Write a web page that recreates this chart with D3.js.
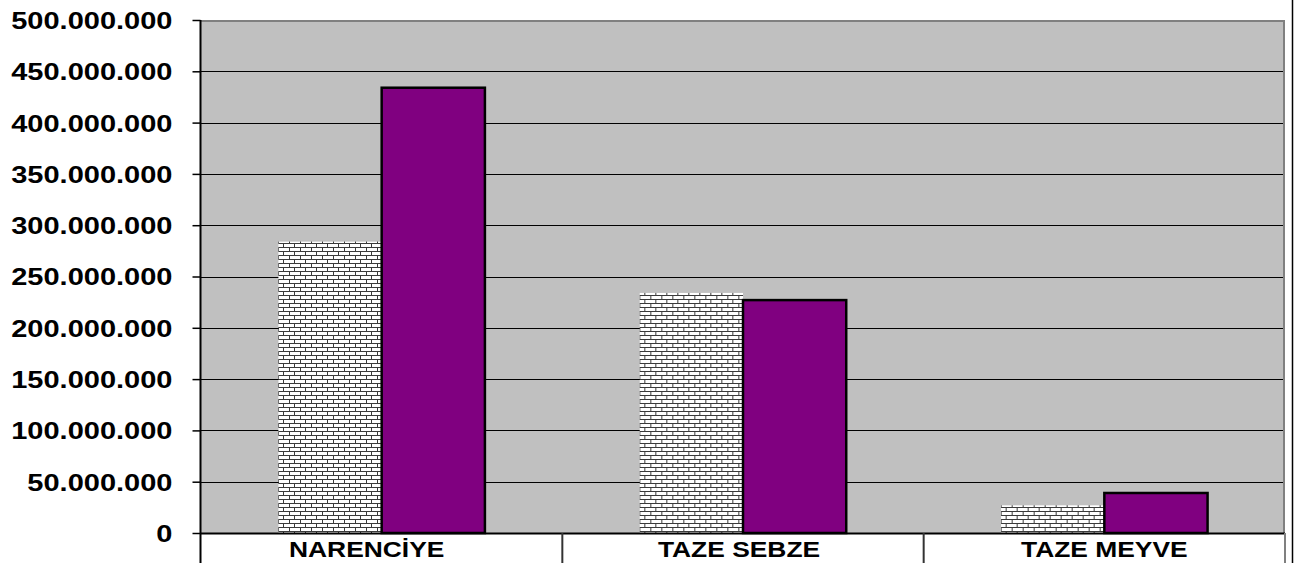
<!DOCTYPE html>
<html>
<head>
<meta charset="utf-8">
<script src="https://cdn.jsdelivr.net/npm/d3@7"></script>
<style>
  body { margin: 0; background: #fff; }
  svg text { font-family: "Liberation Sans", Arial, sans-serif; font-weight: bold; fill: #000; }
</style>
</head>
<body>
<svg id="chart" width="1295" height="563"></svg>
<script>
// chart values
var categories = ["NARENCİYE", "TAZE SEBZE", "TAZE MEYVE"];
var seriesNames = ["Seri 1", "Seri 2"];
var series1 = [284000000, 234000000, 27000000];
var series2 = [434000000, 227000000, 39000000];
var yTicks = [0, 50000000, 100000000, 150000000, 200000000, 250000000, 300000000, 350000000, 400000000, 450000000, 500000000];

var svg = d3.select("#chart");
var plotLeft = 201, plotRight = 1285, plotTop = 20, plotBottom = 533;

// brick pattern
var defs = svg.append("defs");
var pat = defs.append("pattern")
    .attr("id", "bricks")
    .attr("patternUnits", "userSpaceOnUse")
    .attr("width", 11).attr("height", 8);
pat.append("rect").attr("width", 11).attr("height", 8).attr("fill", "#fff");
pat.append("rect").attr("x", 0).attr("y", 3).attr("width", 11).attr("height", 1).attr("fill", "#3a3a3a");
pat.append("rect").attr("x", 0).attr("y", 7).attr("width", 11).attr("height", 1).attr("fill", "#3a3a3a");
pat.append("rect").attr("x", 0).attr("y", 0).attr("width", 1).attr("height", 3).attr("fill", "#3a3a3a");
pat.append("rect").attr("x", 5).attr("y", 4).attr("width", 1).attr("height", 3).attr("fill", "#3a3a3a");

var yScale = d3.scaleLinear().domain([0, 500000000]).range([plotBottom, plotTop]);
var x0 = d3.scaleBand().domain(categories).range([plotLeft, plotRight]).paddingInner(0).paddingOuter(0);
var x1 = d3.scaleBand().domain(seriesNames).range([0, x0.bandwidth()]).paddingInner(0).paddingOuter(0.75);

// plot area
svg.append("rect")
    .attr("x", plotLeft).attr("y", plotTop)
    .attr("width", plotRight - plotLeft).attr("height", plotBottom - plotTop)
    .attr("fill", "#c0c0c0");

// gridlines
svg.append("g").selectAll("line")
    .data(yTicks.filter(function (d) { return d > 0 && d < 500000000; }))
    .enter().append("line")
    .attr("x1", plotLeft).attr("x2", plotRight)
    .attr("y1", function (d) { return Math.round(yScale(d)) + 0.5; })
    .attr("y2", function (d) { return Math.round(yScale(d)) + 0.5; })
    .attr("stroke", "#000").attr("stroke-width", 1);

// plot area border top/right
svg.append("path")
    .attr("d", "M" + plotLeft + "," + (plotTop + 1) + "H" + (plotRight - 1) + "V" + plotBottom)
    .attr("fill", "none").attr("stroke", "#808080").attr("stroke-width", 2);

// bars
var data = categories.map(function (c, i) {
    return { cat: c, values: [{ s: seriesNames[0], v: series1[i] }, { s: seriesNames[1], v: series2[i] }] };
});
var groups = svg.append("g").selectAll("g")
    .data(data).enter().append("g")
    .attr("transform", function (d) { return "translate(" + x0(d.cat) + ",0)"; });

groups.append("rect")
    .attr("x", function (d) { return x1(d.values[0].s); })
    .attr("y", function (d) { return yScale(d.values[0].v); })
    .attr("width", x1.bandwidth())
    .attr("height", function (d) { return plotBottom - yScale(d.values[0].v); })
    .attr("fill", "url(#bricks)");

groups.append("rect")
    .attr("x", function (d) { return x1(d.values[1].s); })
    .attr("y", function (d) { return yScale(d.values[1].v); })
    .attr("width", x1.bandwidth())
    .attr("height", function (d) { return plotBottom - yScale(d.values[1].v); })
    .attr("fill", "#800080")
    .attr("stroke", "#000").attr("stroke-width", 2.5);

// y axis
var yAxis = d3.axisLeft(yScale).tickValues(yTicks).tickSize(8).tickPadding(20)
    .tickFormat(function (d) { return d3.format(",")(d).replace(/,/g, "."); });
var gy = svg.append("g")
    .attr("transform", "translate(" + (plotLeft - 0.5) + ",0)")
    .call(yAxis);
gy.select(".domain").attr("stroke", "#000").attr("stroke-width", 2)
    .attr("d", "M0," + plotTop + "V563");
gy.selectAll(".tick line").attr("stroke", "#000").attr("stroke-width", 1.5);
gy.selectAll(".tick text")
    .attr("x", 0).attr("dy", "0.36em")
    .style("font-size", "23.5px")
    .attr("transform", "translate(-28,0) scale(1.235,1)")
    .attr("text-anchor", "end");

// x axis line
svg.append("line")
    .attr("x1", plotLeft).attr("x2", plotRight)
    .attr("y1", plotBottom + 0.5).attr("y2", plotBottom + 0.5)
    .attr("stroke", "#000").attr("stroke-width", 2);

// category separators below axis
var seps = x0.domain().map(function (c) { return x0(c); }).concat([plotRight]);
svg.append("g").selectAll("line")
    .data(seps.slice(1)).enter().append("line")
    .attr("x1", function (d) { return d; }).attr("x2", function (d) { return d; })
    .attr("y1", plotBottom).attr("y2", 563)
    .attr("stroke", function (d, i) { return i === seps.length - 2 ? "#808080" : "#333"; })
    .attr("stroke-width", 2);

// category labels
svg.append("g").selectAll("text")
    .data(categories).enter().append("text")
    .attr("transform", function (d, i) {
        var nudge = i === 0 ? -15 : (i === 1 ? -4 : 0);
        return "translate(" + (x0(d) + x0.bandwidth() / 2 + nudge) + ",557) scale(1.2,1)";
    })
    .attr("text-anchor", "middle")
    .style("font-size", "22px")
    .text(function (d) { return d; });

// outer chart border on the right
svg.append("line")
    .attr("x1", 1292.5).attr("x2", 1292.5).attr("y1", 0).attr("y2", 563)
    .attr("stroke", "#000").attr("stroke-width", 1.5);
</script>
</body>
</html>
